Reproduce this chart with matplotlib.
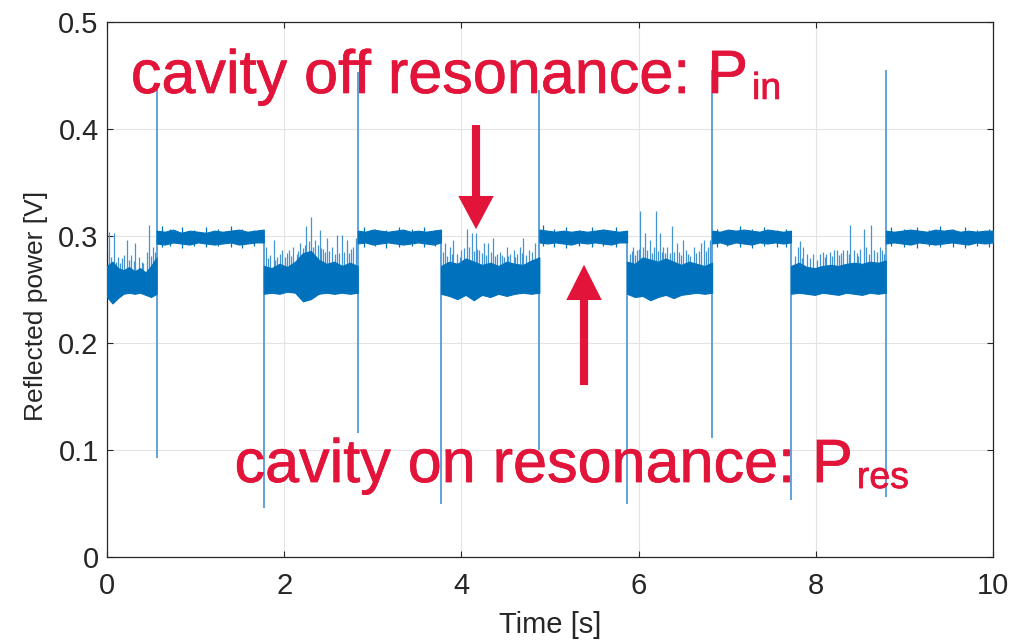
import numpy as np
import matplotlib
matplotlib.use("Agg")
import matplotlib.pyplot as plt
import matplotlib.patheffects as pe
from matplotlib.transforms import IdentityTransform

plt.rcParams['font.family'] = ['Liberation Sans', 'DejaVu Sans']

# ---------------- data ----------------
# segment boundaries [s]; segments alternate: off-res (noisy, low) / on-res (quiet, high)
seg_edges = [0.0, 0.56, 1.77, 2.83, 3.77, 4.88, 5.87, 6.83, 7.72, 8.79, 10.0]

# dense-band envelopes for each segment (upper / lower) [V]
band_upper = [
    [0.272, 0.276, 0.270, 0.268, 0.271, 0.267, 0.270, 0.266, 0.272, 0.280],
    [0.305, 0.304, 0.306, 0.303, 0.305, 0.304, 0.303, 0.305, 0.304, 0.305, 0.306, 0.304, 0.305, 0.306],
    [0.272, 0.270, 0.274, 0.271, 0.276, 0.284, 0.286, 0.278, 0.274, 0.276, 0.272, 0.275, 0.272],
    [0.305, 0.304, 0.306, 0.305, 0.304, 0.305, 0.306, 0.304, 0.305, 0.304, 0.305, 0.306],
    [0.272, 0.276, 0.274, 0.279, 0.276, 0.273, 0.275, 0.272, 0.276, 0.274, 0.273, 0.277, 0.280],
    [0.306, 0.305, 0.304, 0.305, 0.304, 0.305, 0.304, 0.305, 0.306, 0.305, 0.304, 0.305],
    [0.276, 0.274, 0.280, 0.278, 0.276, 0.279, 0.276, 0.273, 0.276, 0.274, 0.272, 0.275],
    [0.305, 0.304, 0.306, 0.305, 0.306, 0.305, 0.304, 0.306, 0.305, 0.304, 0.305],
    [0.272, 0.275, 0.271, 0.270, 0.272, 0.273, 0.272, 0.274, 0.275, 0.274, 0.276, 0.275, 0.277],
    [0.305, 0.304, 0.305, 0.306, 0.305, 0.304, 0.306, 0.305, 0.306, 0.304, 0.305, 0.304, 0.305, 0.305],
]
band_lower = [
    [0.243, 0.237, 0.242, 0.246, 0.247, 0.246, 0.247, 0.245, 0.243, 0.246],
    [0.293, 0.292, 0.294, 0.293, 0.292, 0.294, 0.293, 0.292, 0.293, 0.294, 0.292, 0.293, 0.294, 0.294],
    [0.246, 0.247, 0.246, 0.248, 0.247, 0.239, 0.241, 0.246, 0.247, 0.246, 0.247, 0.246, 0.247],
    [0.293, 0.294, 0.292, 0.293, 0.294, 0.293, 0.292, 0.293, 0.294, 0.293, 0.292, 0.294],
    [0.246, 0.244, 0.241, 0.245, 0.240, 0.245, 0.243, 0.246, 0.244, 0.246, 0.247, 0.246, 0.247],
    [0.294, 0.293, 0.294, 0.293, 0.292, 0.294, 0.293, 0.294, 0.293, 0.292, 0.294, 0.294],
    [0.246, 0.243, 0.244, 0.240, 0.243, 0.245, 0.242, 0.245, 0.246, 0.247, 0.246, 0.247],
    [0.293, 0.294, 0.292, 0.294, 0.293, 0.292, 0.294, 0.293, 0.294, 0.293, 0.294],
    [0.246, 0.247, 0.246, 0.245, 0.247, 0.246, 0.245, 0.247, 0.246, 0.245, 0.247, 0.246, 0.247],
    [0.293, 0.294, 0.293, 0.292, 0.294, 0.293, 0.292, 0.293, 0.294, 0.293, 0.292, 0.294, 0.293, 0.294],
]

# noise spikes above the band in the off-resonance segments: times [s] and tops [V]
spike_t = [0.00, 0.02, 0.05, 0.08, 0.10, 0.12, 0.15, 0.17, 0.19, 0.23, 0.25, 0.27, 0.30, 0.32, 0.36, 0.39,
           0.41, 0.45, 0.48, 0.50, 0.52, 0.54,
           1.80, 1.82, 1.84, 1.88, 1.90, 1.92, 1.95, 1.97, 2.01, 2.03, 2.05, 2.08, 2.10, 2.14, 2.16, 2.18,
           2.21, 2.23, 2.25, 2.28, 2.30, 2.33, 2.35, 2.38, 2.40, 2.42, 2.44, 2.46, 2.48, 2.51, 2.54, 2.57,
           2.60, 2.62, 2.65, 2.68, 2.71, 2.73, 2.75, 2.78, 2.81,
           3.79, 3.81, 3.84, 3.87, 3.89, 3.91, 3.95, 3.98, 4.00, 4.03, 4.06, 4.09, 4.12, 4.14, 4.16, 4.18,
           4.20, 4.23, 4.25, 4.28, 4.30, 4.33, 4.36, 4.38, 4.40, 4.44, 4.46, 4.48, 4.51, 4.53, 4.55, 4.59,
           4.61, 4.63, 4.66, 4.68, 4.70, 4.73, 4.76, 4.80, 4.83, 4.86,
           5.90, 5.92, 5.94, 5.96, 5.98, 6.00, 6.02, 6.05, 6.07, 6.10, 6.13, 6.15, 6.17, 6.20, 6.22, 6.24,
           6.26, 6.28, 6.30, 6.32, 6.35, 6.38, 6.40, 6.43, 6.46, 6.48, 6.50, 6.54, 6.56, 6.58, 6.62, 6.65,
           6.68, 6.70, 6.74, 6.76, 6.78, 6.81,
           7.75, 7.77, 7.80, 7.82, 7.84, 7.86, 7.90, 7.93, 7.97, 8.01, 8.05, 8.08, 8.10, 8.12, 8.16, 8.18,
           8.20, 8.24, 8.26, 8.28, 8.31, 8.35, 8.37, 8.39, 8.43, 8.46, 8.48, 8.50, 8.54, 8.57, 8.60, 8.62,
           8.66, 8.69, 8.72, 8.75, 8.77]
spike_top = [0.285, 0.304, 0.280, 0.303, 0.276, 0.280, 0.275, 0.279, 0.282, 0.296, 0.278, 0.282, 0.277, 0.293, 0.280, 0.276,
             0.275, 0.285, 0.310, 0.281, 0.290, 0.285,
             0.290, 0.279, 0.282, 0.296, 0.278, 0.280, 0.283, 0.287, 0.280, 0.284, 0.287, 0.281, 0.290, 0.283, 0.286, 0.293,
             0.289, 0.292, 0.309, 0.295, 0.318, 0.290, 0.296, 0.292, 0.306, 0.289, 0.288, 0.285, 0.298, 0.286, 0.290, 0.283,
             0.301, 0.284, 0.301, 0.285, 0.296, 0.284, 0.288, 0.290, 0.298,
             0.285, 0.293, 0.281, 0.290, 0.283, 0.296, 0.283, 0.280, 0.287, 0.289, 0.307, 0.290, 0.303, 0.286, 0.303, 0.288,
             0.287, 0.284, 0.293, 0.282, 0.293, 0.285, 0.298, 0.281, 0.283, 0.285, 0.282, 0.280, 0.290, 0.281, 0.283, 0.287,
             0.280, 0.283, 0.290, 0.284, 0.298, 0.282, 0.287, 0.285, 0.293, 0.280,
             0.283, 0.286, 0.290, 0.282, 0.287, 0.288, 0.323, 0.290, 0.303, 0.287, 0.296, 0.284, 0.290, 0.323, 0.286, 0.303,
             0.285, 0.290, 0.284, 0.290, 0.284, 0.309, 0.285, 0.293, 0.285, 0.282, 0.296, 0.287, 0.283, 0.281, 0.290, 0.284,
             0.286, 0.293, 0.296, 0.286, 0.290, 0.296,
             0.270, 0.281, 0.290, 0.295, 0.279, 0.290, 0.283, 0.279, 0.283, 0.278, 0.283, 0.285, 0.280, 0.283, 0.285, 0.281,
             0.287, 0.287, 0.282, 0.284, 0.287, 0.287, 0.283, 0.310, 0.287, 0.284, 0.281, 0.288, 0.307, 0.290, 0.283, 0.310,
             0.287, 0.285, 0.290, 0.287, 0.283]

# small excursions of the quiet on-resonance band: times [s], tops and bottoms [V]
fine_t = [0.62, 0.71, 0.85, 0.98, 1.12, 1.25, 1.40, 1.52, 1.66,
          2.90, 3.02, 3.15, 3.30, 3.44, 3.58, 3.70,
          4.92, 5.05, 5.18, 5.33, 5.47, 5.60, 5.75,
          6.88, 7.00, 7.14, 7.28, 7.42, 7.56, 7.66,
          8.85, 9.00, 9.14, 9.28, 9.40, 9.55, 9.68, 9.82, 9.95]
fine_top = [0.309, 0.307, 0.308, 0.306, 0.308, 0.307, 0.309, 0.307, 0.306,
            0.308, 0.307, 0.306, 0.308, 0.307, 0.308, 0.306,
            0.310, 0.307, 0.308, 0.306, 0.308, 0.307, 0.308,
            0.307, 0.306, 0.309, 0.307, 0.308, 0.306, 0.307,
            0.308, 0.307, 0.308, 0.306, 0.309, 0.307, 0.308, 0.306, 0.307]
fine_bot = [0.290, 0.291, 0.289, 0.291, 0.290, 0.291, 0.290, 0.289, 0.291,
            0.290, 0.291, 0.289, 0.290, 0.291, 0.290, 0.291,
            0.291, 0.290, 0.289, 0.291, 0.290, 0.291, 0.290,
            0.290, 0.291, 0.290, 0.289, 0.291, 0.290, 0.290,
            0.291, 0.290, 0.289, 0.291, 0.290, 0.290, 0.289, 0.291, 0.290]

# switching transients at the segment boundaries: extreme values [V]
switch_t = [0.56, 1.77, 2.83, 3.77, 4.88, 5.87, 6.83, 7.72, 8.79]
switch_max = [0.441, 0.300, 0.453, 0.300, 0.436, 0.300, 0.455, 0.300, 0.455]
switch_min = [0.093, 0.046, 0.116, 0.050, 0.100, 0.050, 0.111, 0.053, 0.056]

x_ticks = [0, 2, 4, 6, 8, 10]
y_ticks = [0, 0.1, 0.2, 0.3, 0.4, 0.5]

# ---------------- figure ----------------
BLUE = '#0072BD'
SPIKE = '#4494D3'
RED = '#E2143A'
DARK = '#262626'

fig = plt.figure(figsize=(10.10, 6.41), dpi=100)
ax = fig.add_axes([0.1059, 0.1310, 0.8773, 0.8347])

# switching transients
ax.vlines(switch_t, switch_min, switch_max, color=SPIKE, lw=1.2, zorder=2)

# dense noise bands
for i in range(len(seg_edges) - 1):
    up = band_upper[i]
    lo = band_lower[i]
    xs = np.linspace(seg_edges[i], seg_edges[i + 1], len(up))
    ax.fill_between(xs, lo, up, color=BLUE, lw=0.8, edgecolor=BLUE, zorder=3)

# noise spikes
ax.vlines(spike_t, 0.262, spike_top, color=SPIKE, lw=0.9, zorder=2.5)
ax.vlines(fine_t, fine_bot, fine_top, color=BLUE, lw=0.9, zorder=3)

ax.set_xlim(0, 10)
ax.set_ylim(0, 0.5)
ax.set_xticks(x_ticks)
ax.set_xticklabels([f'{v:g}' for v in x_ticks])
ax.set_yticks(y_ticks)
ax.set_yticklabels([f'{v:g}' for v in y_ticks])
ax.grid(True, color='#E3E3E3', lw=0.8, zorder=0)
ax.set_axisbelow(True)
for s in ax.spines.values():
    s.set_color(DARK)
    s.set_linewidth(0.9)
ax.tick_params(direction='in', length=4, width=0.8, color=DARK, labelcolor=DARK,
               labelsize=21, top=True, right=True)
ax.tick_params(axis='x', pad=11)
ax.tick_params(axis='y', pad=6)
ax.set_xlabel('Time [s]', fontsize=21, color=DARK, labelpad=8)
ax.set_ylabel('Reflected power [V]', fontsize=19, color=DARK)
ax.yaxis.set_label_coords(-0.066, 0.47)

# annotations
stroke = [pe.withStroke(linewidth=0.5, foreground=RED)]

def label(x, y, main, sub):
    t = ax.text(x, y, main, color=RED, fontsize=44, va='baseline', ha='left', zorder=6,
                path_effects=stroke)
    fig.canvas.draw()
    bb = t.get_window_extent()
    base = ax.transData.transform((x, y))[1]
    ax.text(bb.x1 + 3, base - 6, sub, color=RED, fontsize=27, va='baseline', ha='left',
            transform=IdentityTransform(), zorder=6, path_effects=stroke)

label(0.27, (557 - 93) / 1070, 'cavity off resonance: P', 'in')
label(1.44, (557 - 482) / 1070, 'cavity on resonance: P', 'res')

ax.arrow(4.165, 0.4037, 0, -0.0663, width=0.092, head_width=0.40, head_length=0.031,
         length_includes_head=False, color=RED, lw=0, zorder=6)
ax.arrow(5.384, 0.1607, 0, 0.0795, width=0.092, head_width=0.40, head_length=0.033,
         length_includes_head=False, color=RED, lw=0, zorder=6)

fig.savefig('out.png', dpi=100)
